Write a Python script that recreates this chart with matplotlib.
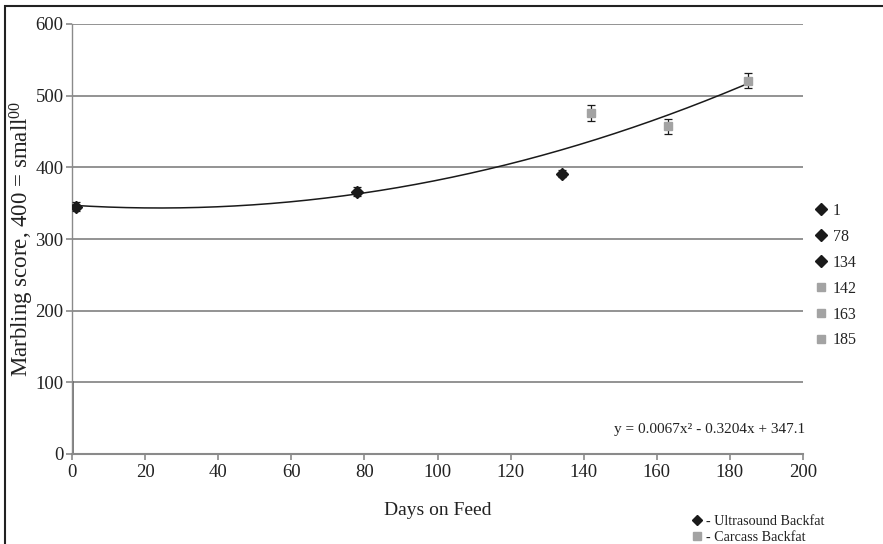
import matplotlib
matplotlib.use("Agg")
import matplotlib.pyplot as plt
import numpy as np
from matplotlib.lines import Line2D
from matplotlib.patches import Rectangle

# ---- data ----
us_days = [1, 78, 134]
us_score = [345, 366, 391]
us_err = [6, 6, 5]
cc_days = [142, 163, 185]
cc_score = [476, 457, 521]
cc_err = [11, 11, 10]
trend_coef = [0.0067, -0.3204, 347.1]
trend_range = [0, 185]
x_ticks = [0, 20, 40, 60, 80, 100, 120, 140, 160, 180, 200]
y_ticks = [0, 100, 200, 300, 400, 500, 600]

plt.rcParams['font.family'] = ['Liberation Serif', 'DejaVu Serif', 'DejaVu Sans']
plt.rcParams['mathtext.fontset'] = 'custom'
plt.rcParams['mathtext.rm'] = 'Liberation Serif'
plt.rcParams['mathtext.it'] = 'Liberation Serif:italic'

W, H = 883, 544
fig = plt.figure(figsize=(W / 100, H / 100), dpi=100)
ax = fig.add_axes([72 / W, 1 - 454 / H, (803 - 72) / W, (454 - 24) / H])

grid_c = '#8a8a8a'
txt_c = '#222222'
for yv in y_ticks[1:]:
    ax.axhline(yv, color=grid_c, lw=1.3, zorder=1)

# trendline
xs = np.linspace(trend_range[0], trend_range[1], 300)
ax.plot(xs, np.polyval(trend_coef, xs), color='#1a1a1a', lw=1.1, zorder=3)

dark = '#1a1a1a'
gray = '#a3a3a3'
handles = []
for d, s, e in zip(us_days, us_score, us_err):
    ax.errorbar([d], [s], yerr=[e], fmt='D', color=dark, ms=6, ecolor=dark,
                elinewidth=0.9, capsize=2.6, capthick=0.9, zorder=4)
    handles.append(Line2D([], [], marker='D', color=dark, ls='none', ms=6, label=str(d)))
for d, s, e in zip(cc_days, cc_score, cc_err):
    ax.errorbar([d], [s], yerr=[e], fmt='s', color=gray, ms=6, ecolor=dark,
                elinewidth=0.9, capsize=2.6, capthick=0.9, zorder=4, mec=gray)
    handles.append(Line2D([], [], marker='s', color=gray, ls='none', ms=5.5, label=str(d)))

ax.set_xlim(0, 200)
ax.set_ylim(0, 600)
ax.set_xticks(x_ticks)
ax.set_yticks(y_ticks)
ax.tick_params(axis='both', direction='out', length=4, width=1.2, color=grid_c,
               labelsize=13.5, labelcolor=txt_c, pad=2)
ax.tick_params(axis='x', pad=3)
for sp in ['top', 'right']:
    ax.spines[sp].set_visible(False)
ax.spines['left'].set_color(grid_c)
ax.spines['left'].set_linewidth(1.0)
ax.spines['bottom'].set_color(grid_c)
ax.spines['bottom'].set_linewidth(1.5)
ax.axvline(0, ymin=0, ymax=100 / 600, color='#555555', lw=1.8, zorder=2)

ax.set_xlabel('Days on Feed', fontsize=14, color=txt_c, labelpad=15)
ax.set_ylabel('Marbling score, 400 = small$^{00}$', fontsize=16.5, color=txt_c, labelpad=0)

ax.text(1.003, 0.057, 'y = 0.0067x² - 0.3204x + 347.1', transform=ax.transAxes,
        ha='right', va='center', fontsize=11, color=txt_c)

fig.legend(handles=handles, loc='upper left', bbox_to_anchor=(807 / W, 1 - 195 / H),
           frameon=False, fontsize=11.5, handlelength=0.7, handletextpad=0.4,
           labelspacing=0.62, borderpad=0, labelcolor=txt_c)

h2 = [Line2D([], [], marker='D', color=dark, ls='none', ms=5.5, label='- Ultrasound Backfat'),
      Line2D([], [], marker='s', color=gray, ls='none', ms=5.5, label='- Carcass Backfat')]
fig.legend(handles=h2, loc='upper left', bbox_to_anchor=(686 / W, 1 - 508 / H),
           frameon=False, fontsize=10.2, handlelength=0.6, handletextpad=0.3,
           labelspacing=0.2, borderpad=0, labelcolor=txt_c)

fig.patches.append(Rectangle((5 / W, -0.1), 1.2, (1 - 6 / H) + 0.1, transform=fig.transFigure,
                             fill=False, ec='#222222', lw=1.5))

fig.savefig('out.png', dpi=100)
